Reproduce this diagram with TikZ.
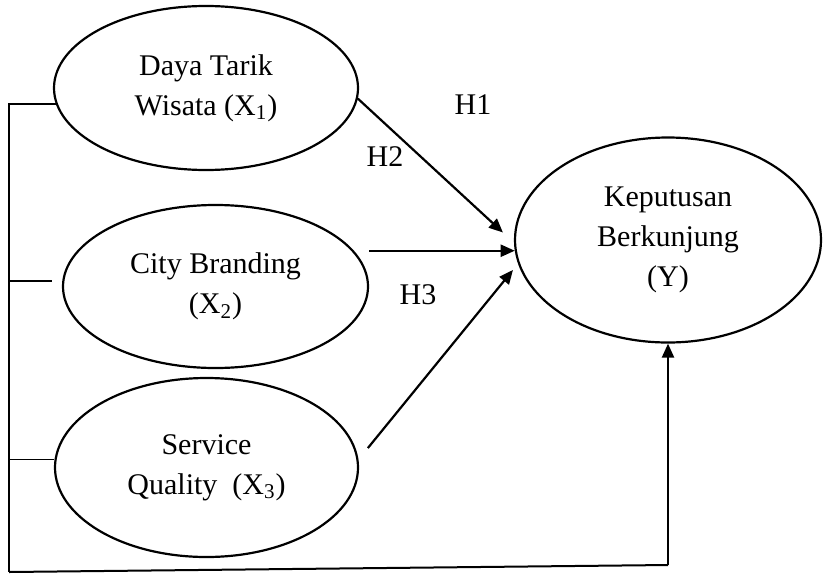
\documentclass[tikz,border=0pt]{standalone}
\usepackage{fontspec}
\setmainfont{Liberation Serif}
\usetikzlibrary{shapes.geometric, arrows.meta}

\begin{document}
\begin{tikzpicture}[x=0.5pt, y=-0.5pt,
  var/.style={draw, ellipse, line width=1.1pt, inner sep=0pt, align=center, font=\fontsize{15}{20}\selectfont},
  path/.style={-{Triangle[length=7pt, width=6pt]}, line width=1.1pt},
  hyp/.style={font=\fontsize{15}{18}\selectfont},
  link/.style={line width=0.7pt}]
  \useasboundingbox (0,0) rectangle (823,573);
  \node[var, minimum width=152pt, minimum height=82pt] (dtw) at (206,88) {Daya Tarik\\Wisata (X\textsubscript{1})};
  \node[var, minimum width=152.5pt, minimum height=81.5pt] (cb) at (215.5,286.5) {City Branding\\(X\textsubscript{2})};
  \node[var, minimum width=151.5pt, minimum height=89.5pt] (sq) at (206.5,467.5) {Service\\Quality~~(X\textsubscript{3})};
  \node[var, minimum width=153pt, minimum height=102.5pt] (kb) at (668,240) {Keputusan\\Berkunjung\\(Y)};
  \node[hyp] (h1) at (473,105) {H1};
  \node[hyp] (h2) at (385,157) {H2};
  \node[hyp] (h3) at (418,295) {H3};
  \coordinate (bl) at (9,572);
  \coordinate (br) at (668,565);
  \draw[path, shorten >=7.5pt] (dtw.-4) -- (kb.181.6);
  \draw[path] (cb.east |- kb.184) -- (kb.184);
  \draw[path, shorten <=7.4pt, shorten >=4pt] (sq.3) -- (kb.189);
  \draw[link] (dtw.186) -- (dtw.186 -| bl) -- (bl);
  \draw[link, shorten >=5pt] (bl |- cb.178) -- (cb.178);
  \draw[link] (bl |- sq.177) -- (sq.177);
  \draw[line width=1pt] (bl) -- (br);
  \draw[path] (br) -- (kb.south);
\end{tikzpicture}
\end{document}
